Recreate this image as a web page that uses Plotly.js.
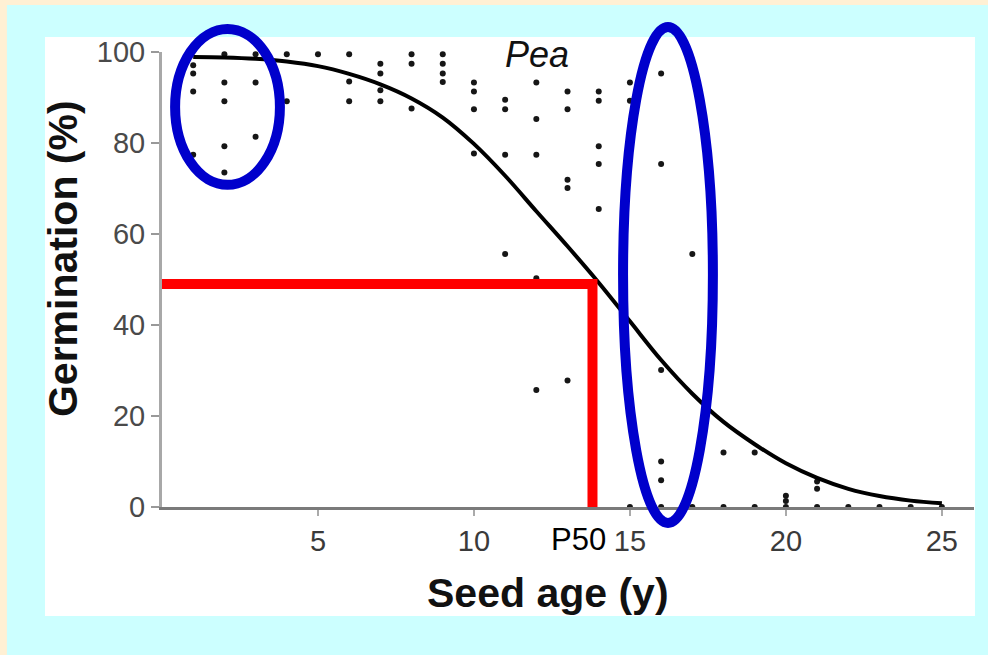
<!DOCTYPE html>
<html>
<head>
<meta charset="utf-8">
<script src="https://cdn.plot.ly/plotly-3.0.1.min.js"></script>
<style>html,body{margin:0;padding:0;background:#FFF0D4;}#chart{width:988px;height:655px;}</style>
</head>
<body>
<div id="chart"></div>
<script>
// ---- data ----
const obsAge = [
  1,1,1,1,
  2,2,2,2,2,
  3,3,3,
  4,4,
  5,
  6,6,6,
  7,7,7,7,
  8,8,8,
  9,9,9,9,
  10,10,10,10,
  11,11,11,11,
  12,12,12,12,12,
  13,13,13,13,13,
  14,14,14,14,14,
  15,15,15,
  16,16,16,16,16,16,
  17,17,
  18,18,
  19,19,
  20,20,20,
  21,21,21,
  22,23,24,25
];
const obsGerm = [
  97.1,95.3,91.3,77.4,
  99.5,93.3,89.2,79.3,73.5,
  99.5,93.3,81.4,
  99.5,89.2,
  99.5,
  99.5,93.5,89.2,
  97.4,95.3,91.6,89.2,
  99.5,97.4,87.6,
  99.5,97.4,95.3,93.4,
  93.3,91.3,87.4,77.7,
  89.5,87.4,77.4,55.6,
  93.3,85.3,77.4,50.3,25.7,
  91.3,87.4,71.9,70.1,27.8,
  91.3,89.3,79.3,75.4,65.5,
  93.3,89.3,0,
  95.3,75.4,30.1,10.0,5.9,0,
  55.6,0,
  12.0,0,
  12.0,0,
  2.5,1.3,0,
  5.6,4.0,0,
  0,0,0,0
];
const fitAge  = [1,2,3,4,5,6,7,8,9,10,11,12,13,14,15,16,17,18,19,20,21,22,23,24,25];
const fitGerm = [98.9,98.8,98.5,97.9,96.9,95.2,92.9,89.8,85.6,79.8,72.8,65.0,57.3,49.3,40.8,32.3,24.9,18.7,13.8,9.6,6.4,4.0,2.4,1.4,0.8];
const p50Age = [0, 13.8, 13.8];
const p50Germ = [49, 49, 0];
const xTicks = [5,10,15,20,25];
const xTickText = ['5','10','15','20','25'];
const yTicks = [0,20,40,60,80,100];
const titleText = 'Pea';
const xTitle = 'Seed age (y)';
const yTitle = 'Germination (%)';
const p50Label = 'P50';
// highlighted groups (age range, germination range)
const leftGroupAge = [0.42, 3.78], leftGroupGerm = [70.8, 105.05];
const rightGroupAge = [14.78, 17.66], rightGroupGerm = [-3.5, 105.5];

const yRange = [0, 100];
const py = v => (v - yRange[0]) / (yRange[1] - yRange[0]);
const FONT = 'Liberation Sans, Arial, sans-serif';

const traces = [
  {x: obsAge, y: obsGerm, type: 'scatter', mode: 'markers', cliponaxis: false,
   marker: {size: 6, color: '#161616', symbol: 'circle'}, hoverinfo: 'skip'},
  {x: fitAge, y: fitGerm, type: 'scatter', mode: 'lines', cliponaxis: false,
   line: {color: '#000', width: 4, shape: 'spline', smoothing: 1}, hoverinfo: 'skip'},
  {x: p50Age, y: p50Germ, type: 'scatter', mode: 'lines', cliponaxis: false,
   line: {color: '#FF0000', width: 10}, hoverinfo: 'skip'}
];

const layout = {
  width: 988, height: 655,
  margin: {l: 162, r: 14, t: 52, b: 148},
  paper_bgcolor: '#FFF0D4',
  plot_bgcolor: '#FFFFFF',
  showlegend: false,
  xaxis: {
    range: [0, 26.03], showgrid: false, zeroline: false,
    showline: true, linecolor: '#7a7a7a', linewidth: 3,
    ticks: 'outside', ticklen: 6, tickwidth: 2, tickcolor: '#aaa',
    tickvals: xTicks, ticktext: xTickText,
    tickfont: {family: FONT, size: 29, color: '#3a3a3a'},
    ticklabelstandoff: 0
  },
  yaxis: {
    range: yRange, showgrid: false, zeroline: false,
    showline: true, linecolor: '#a8a8a8', linewidth: 3,
    ticks: 'outside', ticklen: 8, tickwidth: 2, tickcolor: '#999',
    tickvals: yTicks,
    tickfont: {family: FONT, size: 29, color: '#4a4a4a'}
  },
  shapes: [
    {type: 'rect', xref: 'paper', yref: 'paper', layer: 'below',
     x0: -0.191, x1: 1.1, y0: -0.4, y1: 1.1033, fillcolor: '#CCFFFF', line: {width: 0}},
    {type: 'rect', xref: 'paper', yref: 'paper', layer: 'below',
     x0: -0.1441, x1: 1.0012, y0: -0.2396, y1: 1.033, fillcolor: '#FFFFFF', line: {width: 0}},
    {type: 'circle', xref: 'x', yref: 'paper', layer: 'above',
     x0: leftGroupAge[0], x1: leftGroupAge[1], y0: py(leftGroupGerm[0]), y1: py(leftGroupGerm[1]),
     line: {color: '#0000CC', width: 10}},
    {type: 'circle', xref: 'x', yref: 'paper', layer: 'above',
     x0: rightGroupAge[0], x1: rightGroupAge[1], y0: py(rightGroupGerm[0]), y1: py(rightGroupGerm[1]),
     line: {color: '#0000CC', width: 10}}
  ],
  annotations: [
    {text: titleText, xref: 'paper', yref: 'paper', x: 0.462, y: 0.9956,
     xanchor: 'center', yanchor: 'middle', showarrow: false,
     font: {family: FONT, size: 36, color: '#111', style: 'italic'}},
    {text: '<b>' + xTitle + '</b>', xref: 'paper', yref: 'paper', x: 0.475, y: -0.188,
     xanchor: 'center', yanchor: 'middle', showarrow: false,
     font: {family: FONT, size: 41, color: '#111'}},
    {text: '<b>' + yTitle + '</b>', xref: 'paper', yref: 'paper', x: -0.122, y: 0.547,
     xanchor: 'center', yanchor: 'middle', textangle: -90, showarrow: false,
     font: {family: FONT, size: 41, color: '#111'}},
    {text: p50Label, xref: 'paper', yref: 'paper', x: 0.5135, y: -0.0725,
     xanchor: 'center', yanchor: 'middle', showarrow: false,
     font: {family: FONT, size: 31, color: '#000'}}
  ]
};

Plotly.newPlot('chart', traces, layout, {staticPlot: true, displayModeBar: false});
</script>
</body>
</html>
